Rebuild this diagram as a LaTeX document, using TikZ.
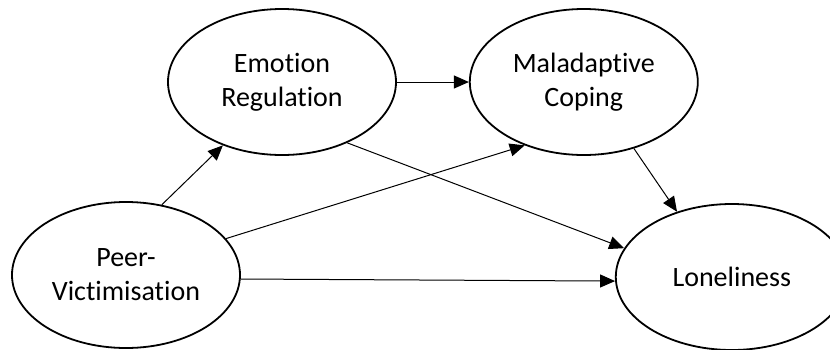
\documentclass[tikz,border=0pt]{standalone}
\usepackage{fontspec}
\setmainfont{Carlito}[Ligatures=NoCommon]
\usetikzlibrary{shapes.geometric, arrows.meta, positioning}

\begin{document}
\begin{tikzpicture}[
    construct/.style={draw, ellipse, line width=1.8pt, minimum width=228pt, minimum height=146pt, inner sep=0pt, align=center, font=\fontsize{28}{34}\selectfont},
    arrow/.style={-{Triangle[length=15pt, width=13pt]}, line width=1pt}
]
    \useasboundingbox (0pt,0pt) rectangle (830pt,-349pt);
    % Main constructs
    \node[construct] (emotion) at (282pt,-82pt) {Emotion\\Regulation};
    \node[construct, right=72pt of emotion] (coping) {Maladaptive\\Coping};
    \node[construct] (peer) at (126pt,-275pt) {Peer-\\Victimisation};
    \node[construct, right=374pt of peer, yshift=-2pt, minimum width=232pt] (lonely) {Loneliness};

    % Paths
    \draw[arrow] (peer.63) -- (emotion.227);
    \draw[arrow] (peer.20) -- (coping.227);
    \draw[arrow] (peer.-2) -- (lonely.182);
    \draw[arrow] (emotion.east) -- (coping.west);
    \draw[arrow] (emotion.-43) -- (lonely.165);
    \draw[arrow] (coping.-53) -- (lonely.130);
\end{tikzpicture}
\end{document}
